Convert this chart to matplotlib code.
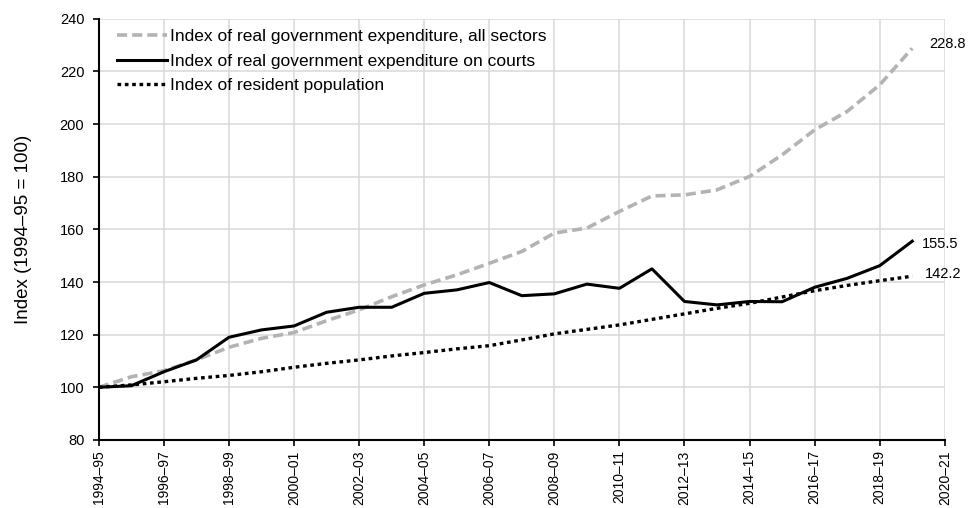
import numpy as np
import matplotlib.pyplot as plt

plt.rcParams['font.family'] = ['Liberation Sans', 'DejaVu Sans']

years = ["1994–95", "1995–96", "1996–97", "1997–98", "1998–99", "1999–00",
         "2000–01", "2001–02", "2002–03", "2003–04", "2004–05", "2005–06",
         "2006–07", "2007–08", "2008–09", "2009–10", "2010–11", "2011–12",
         "2012–13", "2013–14", "2014–15", "2015–16", "2016–17", "2017–18",
         "2018–19", "2019–20", "2020–21"]

all_sectors = [100, 104.0, 106.3, 110.4, 115.2, 118.6, 120.8, 125.3, 129.4, 134.4,
               138.9, 142.7, 147.1, 151.6, 158.6, 160.5, 166.8, 172.7, 173.1, 175.0,
               180.1, 188.3, 197.8, 204.8, 214.9, 228.8]
courts = [100, 100.6, 105.9, 110.4, 119.0, 121.8, 123.3, 128.5, 130.4, 130.4,
          135.7, 137.0, 139.8, 134.8, 135.5, 139.2, 137.6, 145.0, 132.6, 131.3,
          132.6, 132.5, 138.0, 141.4, 146.2, 155.5]
population = [100, 100.9, 102.1, 103.4, 104.5, 105.9, 107.6, 109.1, 110.4, 111.9,
              113.2, 114.6, 115.8, 118.0, 120.3, 122.0, 123.7, 125.8, 127.9, 130.0,
              131.9, 134.3, 136.7, 138.7, 140.5, 142.2]

labels = ["Index of real government expenditure, all sectors",
          "Index of real government expenditure on courts",
          "Index of resident population"]

x = np.arange(len(all_sectors))

fig = plt.figure(figsize=(9.69, 5.08), dpi=100)
ax = fig.add_axes([0.102, 0.134, 0.873, 0.829])

ax.plot(x, all_sectors, color="#b3b3b3", lw=2.6, ls=(0, (2.8, 1.4)), label=labels[0])
ax.plot(x, courts, color="black", lw=2.2, label=labels[1])
ax.plot(x, population, color="black", lw=2.4, ls=(0, (1.1, 1.1)), label=labels[2])

# end-of-line value labels
offsets = [(12, 3), (7, -2), (9, 1.5)]
for series, off in zip((all_sectors, courts, population), offsets):
    ax.annotate("{:.1f}".format(series[-1]), (x[-1], series[-1]), xytext=off,
                textcoords="offset points", fontsize=10.5, va="center", ha="left")

ax.set_xlim(0, len(years) - 1)
ax.set_ylim(80, 240)
ax.set_xticks(np.arange(0, len(years), 2))
ax.set_xticklabels(years[::2], rotation=90, fontsize=10)
ax.set_yticks(np.arange(80, 241, 20))
ax.tick_params(axis="y", labelsize=10.5, length=4.5, width=1.2, pad=6)
ax.tick_params(axis="x", length=4, width=1.2, pad=3.5)
ax.set_ylabel("Index (1994–95 = 100)", fontsize=13.5, labelpad=20)

ax.grid(True, color="#d9d9d9", lw=1.1)
ax.set_axisbelow(True)
for side in ("top", "right"):
    ax.spines[side].set_visible(False)
for side in ("left", "bottom"):
    ax.spines[side].set_linewidth(1.5)

ax.legend(loc="upper left", bbox_to_anchor=(0.021, 0.976), frameon=False, fontsize=12.5,
          handlelength=2.9, handletextpad=0.2, labelspacing=0.55,
          borderpad=0, borderaxespad=0)

fig.savefig("out.png", dpi=100)
